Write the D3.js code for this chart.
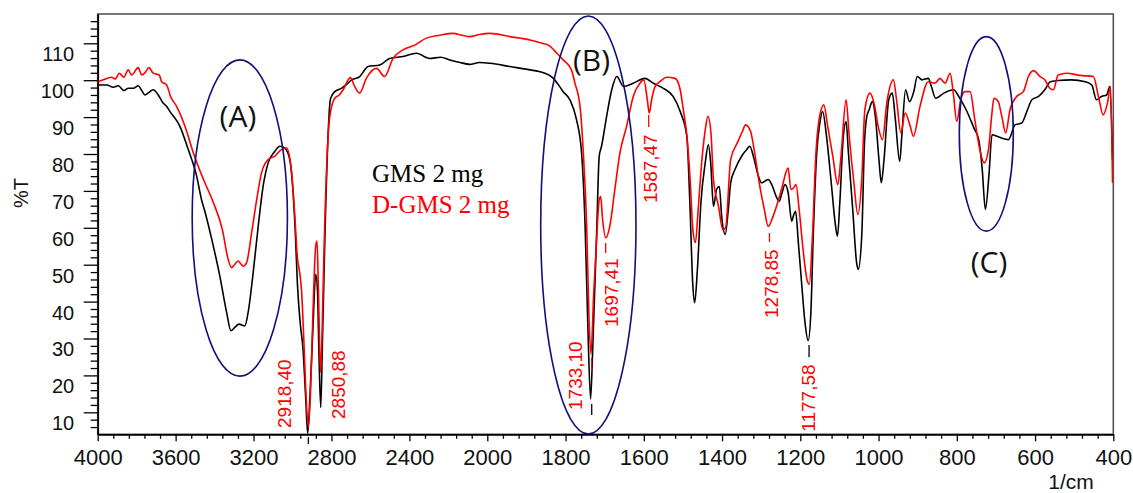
<!DOCTYPE html>
<html>
<head>
<meta charset="utf-8">
<script src="https://cdn.jsdelivr.net/npm/d3@7"></script>
<style>
    html, body { margin: 0; padding: 0; background: #fff; }
    svg { display: block; }
</style>
</head>
<body>
<svg id="chart" width="1133" height="493"></svg>
<script>
// [wavenumber 1/cm, %T]
const gmsSpectrum = [
    [4000, 98.7], [3954, 98.7], [3920, 98.1], [3894, 98.5], [3865, 97.2], [3843, 97.8], [3817, 97.8],
    [3792, 98.5], [3774, 97.2], [3757, 96.0], [3740, 96.6], [3715, 97.4], [3689, 96.0], [3664, 93.8],
    [3646, 92.9], [3629, 91.5], [3578, 87.5], [3535, 81.2], [3492, 74], [3467, 67.6], [3450, 64.5],
    [3415, 57], [3373, 46.9], [3338, 37], [3316, 32.1], [3296, 33], [3275, 33.9], [3245, 33.4],
    [3228, 37], [3202, 47.8], [3176, 60.4], [3151, 71.2], [3125, 77.6], [3091, 80.7], [3065, 82.1],
    [3040, 81.6], [3014, 78.5], [2997, 69.5], [2985, 58], [2975, 45], [2960, 34], [2946, 27.1],
    [2932, 13.6], [2922, 4.3], [2911, 13.6], [2894, 34.3], [2881, 47.4], [2872, 43.3], [2864, 25.3],
    [2855, 11.3], [2846, 29.8], [2834, 56.8], [2815, 88], [2805, 95], [2783, 96.9], [2749, 97.8],
    [2730, 98.5], [2698, 100], [2655, 101], [2612, 103.7], [2552, 104.1], [2501, 105.9], [2433, 106.4],
    [2364, 107.3], [2296, 105.9], [2240, 106.2], [2193, 105.5], [2140, 104.8], [2091, 104.3], [2040, 104.8],
    [1993, 104.6], [1942, 103.7], [1891, 102.8], [1865, 102.3], [1831, 100.5], [1806, 96.9], [1789, 94.7],
    [1772, 89.3], [1759, 80.3], [1750, 60.4], [1743, 33.4], [1736, 13.6], [1730, 28.9], [1720, 60.4],
    [1714, 79.4], [1708, 82.1], [1695, 90.2], [1682, 97.4], [1669, 101], [1652, 98.3], [1627, 99.2],
    [1597, 100.5], [1576, 99.2], [1550, 97.8], [1525, 95.6], [1507, 91.5], [1490, 84.8], [1482, 66],
    [1475, 45], [1470, 39.7], [1463, 48.7], [1454, 66.8], [1443, 77.6], [1435, 82.5], [1429, 77.6],
    [1422, 65.8], [1414, 70.4], [1407, 71.2], [1401, 63.1], [1392, 58.2], [1384, 65], [1378, 72.2],
    [1367, 75.8], [1350, 79.4], [1337, 81.2], [1329, 82.1], [1320, 79.4], [1307, 74], [1299, 72.2],
    [1282, 73.1], [1273, 71.7], [1260, 68.1], [1254, 67.2], [1248, 69], [1239, 71.7], [1231, 69.5],
    [1222, 61.8], [1218, 63.1], [1212, 64.5], [1205, 56], [1196, 44.2], [1188, 34.3], [1180, 29.4],
    [1173, 37], [1167, 57.7], [1158, 80.3], [1150, 88.4], [1143, 91.5], [1133, 84.8], [1120, 71.2],
    [1111, 61.4], [1105, 57.7], [1099, 66.8], [1090, 84.8], [1083, 88.8], [1077, 80.3], [1066, 65],
    [1056, 50.5], [1052, 48.7], [1043, 57.7], [1036, 83], [1030, 90.2], [1024, 92], [1016, 94.2],
    [1008, 90], [999, 78.5], [993, 72.2], [986, 78.5], [974, 94.7], [965, 96.5], [957, 89.3],
    [946, 78], [940, 85.7], [931, 97.4], [921, 94.2], [910, 96.9], [901, 101], [889, 100.1],
    [873, 100.5], [865, 98.3], [854, 95.1], [833, 96.5], [808, 97.4], [795, 95.6], [778, 92.4],
    [756, 87], [744, 83.9], [735, 75.8], [727, 65], [718, 74], [710, 85.2], [693, 84.6],
    [668, 83.9], [651, 87.9], [634, 88.4], [621, 91.5], [608, 94.7], [591, 95.6], [575, 97.4],
    [561, 99.6], [541, 99.9], [507, 100.1], [472, 99.6], [455, 98.7], [443, 94.7], [430, 95.6],
    [417, 96], [409, 98.3], [402, 78.5]
]

const dgmsSpectrum = [
    [4000, 99.6], [3971, 100.1], [3928, 100.8], [3910, 100.3], [3889, 101.9], [3866, 100.8], [3843, 102.8],
    [3826, 101.4], [3792, 103.4], [3774, 101.4], [3755, 102.2], [3737, 103.4], [3715, 101.9], [3684, 101.4],
    [3672, 99.6], [3646, 98.7], [3626, 95.6], [3595, 92.9], [3552, 87.5], [3509, 80.3], [3457, 73.1],
    [3406, 66.8], [3360, 59.5], [3330, 51.4], [3313, 49.2], [3295, 50.2], [3279, 51], [3265, 50.2],
    [3253, 49.6], [3236, 50.5], [3210, 58.6], [3184, 67.6], [3159, 74.9], [3125, 78.5], [3091, 79.4],
    [3057, 81.2], [3031, 81.6], [3006, 75.8], [2989, 64], [2975, 52], [2963, 47.8], [2954, 43.3],
    [2942, 29.8], [2932, 16.3], [2918, 6], [2907, 16.3], [2894, 38.8], [2881, 55], [2874, 56.4],
    [2867, 43.3], [2856, 20.8], [2849, 29.8], [2839, 52.3], [2820, 82], [2809, 90], [2783, 95.1],
    [2760, 96], [2740, 97.4], [2703, 100.7], [2681, 98.3], [2655, 96.5], [2621, 100.5], [2569, 103.2],
    [2527, 101], [2484, 105.9], [2433, 108.2], [2373, 109.5], [2313, 111.4], [2245, 112.2], [2176, 112.7],
    [2130, 112.2], [2091, 111.8], [2040, 112.4], [1993, 112.7], [1942, 111.8], [1891, 110.9], [1860, 110],
    [1844, 109.5], [1822, 107.3], [1806, 105.5], [1785, 102.8], [1776, 99.2], [1763, 92.9], [1755, 81.2],
    [1746, 60.4], [1740, 35.2], [1735, 25.8], [1728, 42.4], [1721, 56], [1714, 67.6], [1710, 68.5],
    [1706, 63.1], [1697, 57.3], [1687, 60.4], [1674, 70.4], [1661, 80.3], [1644, 87.5], [1627, 95.6],
    [1610, 99.2], [1600, 100.1], [1591, 94.7], [1586, 91.1], [1580, 94.7], [1571, 98.3], [1559, 99.6],
    [1541, 100.8], [1520, 100.5], [1507, 97.4], [1499, 92], [1490, 85], [1481, 72], [1475, 60],
    [1468, 56], [1461, 65], [1451, 79], [1443, 86.5], [1436, 90.2], [1428, 85.2], [1422, 73.1],
    [1409, 65.8], [1398, 59.5], [1391, 60], [1378, 78.5], [1361, 83], [1348, 86.1], [1340, 87.9],
    [1327, 86.1], [1318, 81.2], [1305, 72.2], [1292, 65], [1282, 60.4], [1271, 62.7], [1258, 66.8],
    [1246, 71.2], [1237, 74.9], [1231, 76.2], [1224, 70.4], [1217, 70.8], [1211, 71.7], [1203, 65],
    [1192, 53.2], [1183, 46], [1177, 44.7], [1169, 57.7], [1160, 80.3], [1152, 89.3], [1140, 93.3],
    [1130, 87.5], [1117, 79.4], [1104, 71.7], [1096, 79.4], [1083, 94.7], [1075, 84.8], [1063, 72.2],
    [1053, 63.6], [1043, 73.1], [1035, 92], [1022, 96.5], [1010, 93], [1001, 87.5], [990, 83.9],
    [979, 93.8], [962, 100.1], [954, 94.7], [943, 85.7], [932, 91.1], [919, 87.5], [911, 84.8],
    [894, 92.9], [873, 99.6], [856, 99.2], [843, 100.5], [830, 99.2], [817, 101.9], [809, 96.5],
    [800, 88.8], [790, 94.7], [779, 96.9], [766, 96.9], [754, 89.3], [742, 81.6], [730, 77.6],
    [719, 81.2], [711, 90.2], [705, 95.1], [694, 94.2], [685, 90.2], [675, 85.7], [664, 92],
    [647, 95.6], [630, 96.9], [617, 101], [604, 102.6], [587, 101], [575, 100.1], [562, 97.8],
    [553, 97.4], [541, 101.4], [519, 101.9], [485, 101.3], [451, 101], [438, 95.6], [426, 90.6],
    [415, 93.8], [407, 98.3], [402, 72.2]
]

const seriesNames = ['GMS 2 mg', 'D-GMS 2 mg']
const seriesColors = ['#000000', '#ff0000']

const xTickValues = [4000, 3600, 3200, 2800, 2400, 2000, 1800, 1600, 1400, 1200, 1000, 800, 600, 400]
const yTickValues = [10, 20, 30, 40, 50, 60, 70, 80, 90, 100, 110]

// peak wavenumbers written on the plot
const peakValues = [2918.40, 2850.88, 1733.10, 1697.41, 1587.47, 1278.85, 1177.58]

// circled regions: wavenumber span and %T span
const regionNames = ['(A)', '(B)', '(C)']
const regionWn = [[3515, 3026], [1863.5, 1620], [793.6, 655.6]]
const regionT = [[105.5, 19.8], [117.4, 4.1], [111.8, 59.1]]
const regionLabelAt = [[3280, 87.4], [1733.7, 102.6], [717.6, 47.75]]

// ---- layout ----
const width = 1133
const height = 493
const plotLeft = 97.7
const plotRight = 1113.3
const plotTop = 14
const plotBottom = 434.3

// the spectrometer plots 2000-400 at twice the scale of 4000-2000
const x = d3.scaleLinear()
    .domain([4000, 2000, 400])
    .range([plotLeft, 487.3, plotRight])

const y = d3.scaleLinear()
    .domain([4.04, 117.94])
    .range([plotBottom, plotTop])

const svg = d3.select('#chart')
    .attr('viewBox', `0 0 ${width} ${height}`)

svg.append('defs').append('clipPath')
    .attr('id', 'plot-clip')
    .append('rect')
    .attr('x', plotLeft)
    .attr('y', plotTop - 2)
    .attr('width', plotRight - plotLeft)
    .attr('height', plotBottom - plotTop + 2)

// frame
svg.append('rect')
    .attr('x', plotLeft)
    .attr('y', plotTop)
    .attr('width', plotRight - plotLeft)
    .attr('height', plotBottom - plotTop)
    .attr('fill', 'none')
    .attr('stroke', '#555')
    .attr('stroke-width', 1.6)

// minor ticks
const xMinor = d3.range(4000, 2000, -80).concat(d3.range(2000, 399, -40))
    .filter(v => !xTickValues.includes(v))
const yMinor = d3.range(6, 118, 2).filter(v => v % 10 !== 0)

svg.append('g')
    .attr('transform', `translate(0, ${plotBottom})`)
    .call(d3.axisBottom(x).tickValues(xMinor).tickSize(4.5).tickSizeOuter(0).tickFormat(''))
    .call(g => g.select('.domain').remove())
    .call(g => g.selectAll('line').attr('stroke-width', 1.3))

svg.append('g')
    .attr('transform', `translate(${plotLeft}, 0)`)
    .call(d3.axisLeft(y).tickValues(yMinor).tickSize(7).tickSizeOuter(0).tickFormat(''))
    .call(g => g.select('.domain').remove())
    .call(g => g.selectAll('line').attr('stroke-width', 1.3))

const xAxis = svg.append('g')
    .attr('transform', `translate(0, ${plotBottom})`)
    .call(d3.axisBottom(x)
        .tickValues(xTickValues)
        .tickFormat(d3.format('d'))
        .tickSize(7)
        .tickSizeOuter(0)
        .tickPadding(8))

xAxis.select('.domain').attr('stroke-width', 1.8)
xAxis.selectAll('line').attr('stroke-width', 1.3)
xAxis.selectAll('text')
    .attr('font-family', '"Liberation Sans", Arial, sans-serif')
    .attr('font-size', 22)
    .attr('fill', '#111')

const yAxis = svg.append('g')
    .attr('transform', `translate(${plotLeft}, 0)`)
    .call(d3.axisLeft(y).tickValues(yTickValues).tickSize(14).tickSizeOuter(0).tickPadding(9.5))

yAxis.select('.domain').attr('stroke-width', 1.8)
yAxis.selectAll('line').attr('stroke-width', 1.3)
// labels sit a little below their ticks in the original
yAxis.selectAll('text')
    .attr('dy', '0.87em')
    .attr('font-family', '"Liberation Sans", Arial, sans-serif')
    .attr('font-size', 20)
    .attr('fill', '#111')

svg.append('text')
    .attr('transform', 'translate(21, 193) rotate(-90)')
    .attr('text-anchor', 'middle')
    .attr('dy', '0.35em')
    .attr('font-family', '"Liberation Sans", Arial, sans-serif')
    .attr('font-size', 20)
    .attr('fill', '#111')
    .text('%T')

svg.append('text')
    .attr('x', 1071)
    .attr('y', 489)
    .attr('text-anchor', 'middle')
    .attr('font-family', '"Liberation Sans", Arial, sans-serif')
    .attr('font-size', 21)
    .attr('fill', '#111')
    .text('1/cm')

// spectra
const line = d3.line()
    .x(d => x(d[0]))
    .y(d => y(d[1]))
    .curve(d3.curveMonotoneX)

const plot = svg.append('g').attr('clip-path', 'url(#plot-clip)')

;[gmsSpectrum, dgmsSpectrum].forEach((series, i) => {
    plot.append('path')
        .datum(series)
        .attr('d', line)
        .attr('fill', 'none')
        .attr('stroke', seriesColors[i])
        .attr('stroke-width', 1.6)
        .attr('stroke-linejoin', 'round')
})

// legend
const legend = svg.append('g')
    .attr('font-family', '"Liberation Serif", "Times New Roman", serif')
    .attr('font-size', 25)

seriesNames.forEach((name, i) => {
    legend.append('text')
        .attr('x', 372)
        .attr('y', 182 + i * 31)
        .attr('fill', seriesColors[i])
        .text(name)
})

// circled regions
regionNames.forEach((name, i) => {
    const [w1, w2] = regionWn[i]
    const [t1, t2] = regionT[i]
    const cx = (x(w1) + x(w2)) / 2
    const cy = (y(t1) + y(t2)) / 2
    svg.append('ellipse')
        .attr('cx', cx)
        .attr('cy', cy)
        .attr('rx', Math.abs(x(w2) - x(w1)) / 2)
        .attr('ry', Math.abs(y(t2) - y(t1)) / 2)
        .attr('fill', 'none')
        .attr('stroke', '#10107a')
        .attr('stroke-width', 1.6)

    svg.append('text')
        .attr('x', x(regionLabelAt[i][0]))
        .attr('y', y(regionLabelAt[i][1]))
        .attr('text-anchor', 'middle')
        .attr('font-family', '"Open Sans", sans-serif')
        .attr('font-size', 30)
        .attr('fill', '#111')
        .text(name)
})

// peak labels: offset from the peak (px) and where the text starts (px)
const peakLabelLayout = [
    { dx: -24.6, bottom: 428 },
    { dx: 16.7, bottom: 419 },
    { dx: -16.7, bottom: 410 },
    { dx: 5, bottom: 327 },
    { dx: 1.3, bottom: 203 },
    { dx: 1.6, bottom: 318 },
    { dx: -0.8, bottom: 431.7 }
]

// little peak pointers: [peak index, colour index, top px, bottom px]
const peakPointers = [
    [0, 0, 437, 444],
    [2, 1, 358, 370],
    [2, 0, 404, 415],
    [3, 1, 243, 253],
    [4, 1, 115, 127],
    [5, 1, 233, 242],
    [6, 0, 345, 357]
]

peakPointers.forEach(([p, c, y1, y2]) => {
    const px = x(peakValues[p])
    svg.append('line')
        .attr('x1', px).attr('x2', px)
        .attr('y1', y1).attr('y2', y2)
        .attr('stroke', seriesColors[c])
        .attr('stroke-width', 1.3)
})

peakValues.forEach((v, i) => {
    const lay = peakLabelLayout[i]
    svg.append('text')
        .attr('transform', `translate(${x(v) + lay.dx}, ${lay.bottom}) rotate(-90)`)
        .attr('dy', '0.36em')
        .attr('font-family', '"Liberation Sans", Arial, sans-serif')
        .attr('font-size', 19)
        .attr('fill', '#ff0000')
        .text(v.toFixed(2).replace('.', ','))
})
</script>
</body>
</html>
